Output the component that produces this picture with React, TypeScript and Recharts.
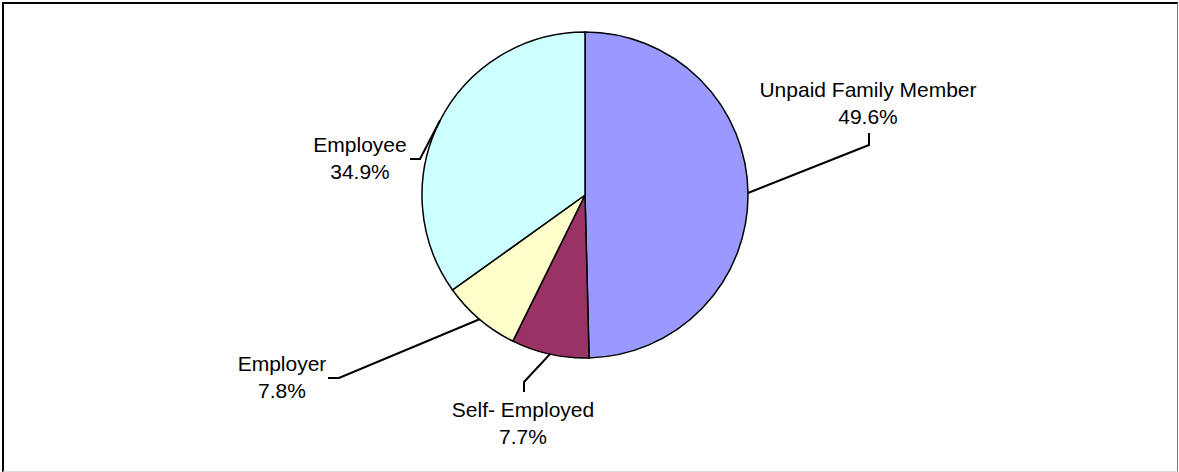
import { PieChart, Pie, Cell } from "recharts";

const categories = ["Unpaid Family Member", "Self- Employed", "Employer", "Employee"];
const shares = [49.6, 7.7, 7.8, 34.9];
const colors = ["#9999FF", "#993366", "#FFFFCC", "#CCFFFF"];

// hand-placed label boxes, relative to the pie centre (like the original)
const labelLayout = [
  { elbow: [284, -50], tick: [284, -62], textX: 283, base: -98 },
  { elbow: [-61, 187], tick: [-61, 197], textX: -62, base: 222 },
  { elbow: [-246, 183], tick: [-257, 183], textX: -303, base: 176 },
  { elbow: [-165, -36], tick: [-175, -36], textX: -225, base: -43 },
];

const data = categories.map((name, i) => ({ name, value: shares[i] }));

const RAD = Math.PI / 180;

const renderLabel = (props: any) => {
  const { cx, cy, midAngle, outerRadius, index, name, value } = props;
  const l = labelLayout[index];
  const sx = cx + outerRadius * Math.cos(-midAngle * RAD);
  const sy = cy + outerRadius * Math.sin(-midAngle * RAD);
  const ex = cx + l.elbow[0];
  const ey = cy + l.elbow[1];
  const tx = cx + l.tick[0];
  const ty = cy + l.tick[1];
  return (
    <g>
      <polyline
        points={`${sx},${sy} ${ex},${ey} ${tx},${ty}`}
        fill="none"
        stroke="#000"
        strokeWidth={2}
      />
      <text
        x={cx + l.textX}
        y={cy + l.base}
        textAnchor="middle"
        fill="#000"
        fontSize={21}
        fontFamily="'Liberation Sans', Arial, sans-serif"
      >
        {name}
      </text>
      <text
        x={cx + l.textX}
        y={cy + l.base + 26.5}
        textAnchor="middle"
        fill="#000"
        fontSize={21}
        fontFamily="'Liberation Sans', Arial, sans-serif"
      >
        {value.toFixed(1)}%
      </text>
    </g>
  );
};

export default function App() {
  return (
    <div style={{ position: "absolute", left: 0, top: 0, width: 1179, height: 472, background: "#fff" }}>
      <div
        style={{
          position: "absolute",
          left: 2,
          top: 2,
          width: 1173,
          height: 467,
          borderLeft: "2px solid #000",
          borderTop: "2px solid #000",
          borderRight: "1px solid #777",
          borderBottom: "1px solid #ddd",
        }}
      />
      <PieChart
        width={1179}
        height={472}
        margin={{ top: 0, right: 0, bottom: 0, left: 0 }}
        style={{ position: "absolute", left: 0, top: 0 }}
      >
        <Pie
          data={data}
          dataKey="value"
          nameKey="name"
          cx={585}
          cy={195}
          outerRadius={163}
          startAngle={90}
          endAngle={-270}
          stroke="#000"
          strokeWidth={1.5}
          label={renderLabel}
          labelLine={false}
          isAnimationActive={false}
        >
          {data.map((d, i) => (
            <Cell key={d.name} fill={colors[i]} />
          ))}
        </Pie>
      </PieChart>
    </div>
  );
}
